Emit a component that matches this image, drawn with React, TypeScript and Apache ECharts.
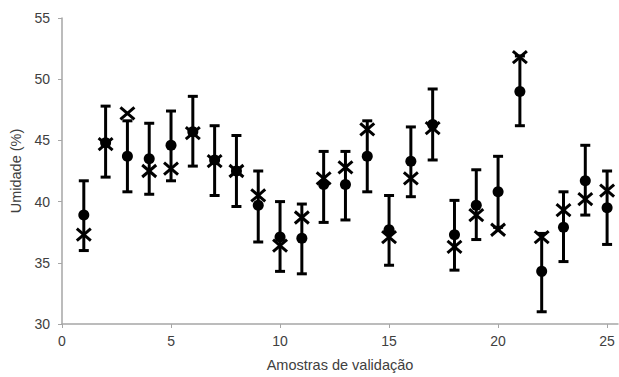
import React, { useEffect, useRef } from "react";
import * as echarts from "echarts";

const samples = [1, 2, 3, 4, 5, 6, 7, 8, 9, 10, 11, 12, 13, 14, 15, 16, 17, 18, 19, 20, 21, 22, 23, 24, 25];
const measured = [38.9, 44.8, 43.7, 43.5, 44.6, 45.7, 43.4, 42.5, 39.7, 37.1, 37.0, 41.4, 41.4, 43.7, 37.7, 43.3, 46.3, 37.3, 39.7, 40.8, 49.0, 34.3, 37.9, 41.7, 39.5];
const predicted = [37.3, 44.7, 47.2, 42.5, 42.7, 45.6, 43.3, 42.5, 40.5, 36.4, 38.7, 41.9, 42.8, 45.9, 37.1, 41.9, 46.0, 36.3, 38.9, 37.7, 51.8, 37.1, 39.3, 40.2, 40.9];
const upper = [41.7, 47.8, 46.6, 46.4, 47.4, 48.6, 46.2, 45.4, 42.5, 40.0, 39.8, 44.1, 44.1, 46.6, 40.5, 46.1, 49.2, 40.1, 42.6, 43.7, 51.9, 37.4, 40.8, 44.6, 42.5];
const lower = [36.0, 42.0, 40.8, 40.6, 41.7, 42.9, 40.5, 39.6, 36.7, 34.3, 34.1, 38.3, 38.5, 40.8, 34.8, 40.4, 43.4, 34.4, 36.9, 37.9, 46.2, 31.0, 35.1, 38.9, 36.5];
const xTicks = [0, 5, 10, 15, 20, 25];

export default function App() {
  const ref = useRef<HTMLDivElement>(null);
  useEffect(() => {
    if (!ref.current) return;
    const chart = echarts.init(ref.current, null, { renderer: "svg" });
    const font = "'Liberation Sans', Arial, sans-serif";
    const axisColor = "#a6a6a6";
    const labelColor = "#404040";
    chart.setOption({
      animation: false,
      backgroundColor: "#ffffff",
      grid: { left: 62, right: 1, top: 18, bottom: 47 },
      xAxis: {
        type: "value",
        min: 0,
        max: 25.5,
        interval: 5,
        name: "Amostras de validação",
        nameLocation: "middle",
        nameGap: 33,
        nameTextStyle: { fontFamily: font, fontSize: 14.5, color: labelColor },
        axisLine: { lineStyle: { color: axisColor, width: 1.5 } },
        axisTick: { show: true, length: 4, lineStyle: { color: axisColor }, customValues: xTicks },
        axisLabel: {
          fontFamily: font, fontSize: 14, color: labelColor, margin: 10,
          customValues: xTicks,
        },
        splitLine: { show: false },
      },
      yAxis: {
        type: "value",
        min: 30,
        max: 55,
        interval: 5,
        name: "Umidade (%)",
        nameLocation: "middle",
        nameGap: 35,
        nameTextStyle: { fontFamily: font, fontSize: 14.5, color: labelColor },
        axisLine: { show: true, lineStyle: { color: axisColor, width: 1.5 } },
        axisTick: { show: true, length: 4, lineStyle: { color: axisColor } },
        axisLabel: { fontFamily: font, fontSize: 14, color: labelColor, margin: 12 },
        splitLine: { show: false },
      },
      series: [
        {
          type: "custom",
          name: "erro",
          data: samples.map((s, i) => [s, lower[i], upper[i]]),
          encode: { x: 0, y: [1, 2] },
          renderItem: (params: any, api: any) => {
            const x = api.value(0);
            const lo = api.coord([x, api.value(1)]);
            const hi = api.coord([x, api.value(2)]);
            const hw = 5;
            const style = { stroke: "#000", lineWidth: 3 };
            return {
              type: "group",
              children: [
                { type: "line", shape: { x1: lo[0], y1: lo[1], x2: hi[0], y2: hi[1] }, style },
                { type: "line", shape: { x1: lo[0] - hw, y1: lo[1], x2: lo[0] + hw, y2: lo[1] }, style },
                { type: "line", shape: { x1: hi[0] - hw, y1: hi[1], x2: hi[0] + hw, y2: hi[1] }, style },
              ],
            };
          },
          z: 1,
        },
        {
          type: "scatter",
          name: "medido",
          data: samples.map((s, i) => [s, measured[i]]),
          symbol: "circle",
          symbolSize: 11,
          itemStyle: { color: "#000", opacity: 1 },
          z: 2,
        },
        {
          type: "custom",
          name: "predito",
          data: samples.map((s, i) => [s, predicted[i]]),
          encode: { x: 0, y: 1 },
          renderItem: (params: any, api: any) => {
            const p = api.coord([api.value(0), api.value(1)]);
            const hx = 7;
            const hy = 6;
            const style = { stroke: "#000", lineWidth: 3 };
            return {
              type: "group",
              children: [
                { type: "line", shape: { x1: p[0] - hx, y1: p[1] - hy, x2: p[0] + hx, y2: p[1] + hy }, style },
                { type: "line", shape: { x1: p[0] - hx, y1: p[1] + hy, x2: p[0] + hx, y2: p[1] - hy }, style },
              ],
            };
          },
          z: 3,
        },
      ],
    });
    return () => chart.dispose();
  }, []);
  return <div ref={ref} style={{ width: 619, height: 377, position: "absolute", left: 0, top: 0 }} />;
}
